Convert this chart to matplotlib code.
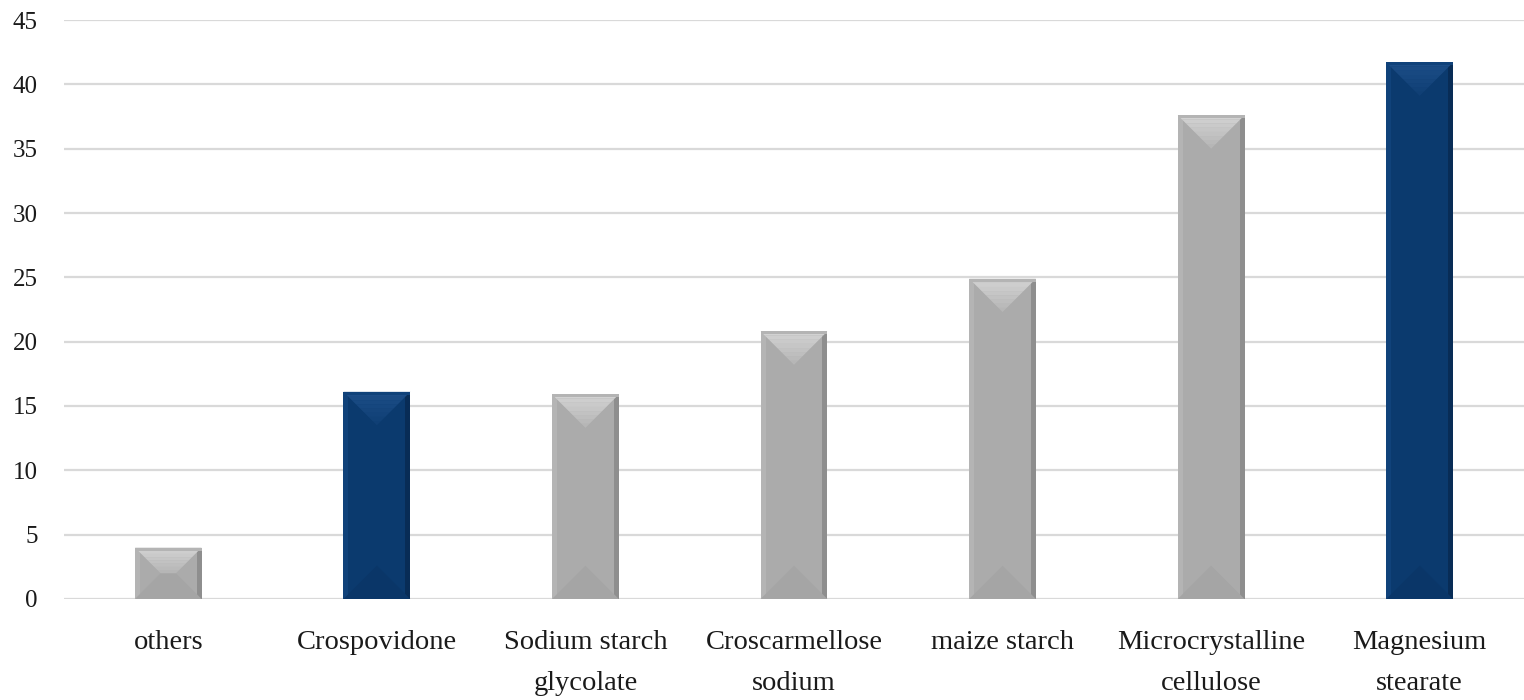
import numpy as np
import matplotlib.pyplot as plt
from matplotlib.patches import Polygon

# Excipient usage counts
categories = ['others', 'Crospovidone', 'Sodium starch\nglycolate',
              'Croscarmellose\nsodium', 'maize starch',
              'Microcrystalline\ncellulose', 'Magnesium\nstearate']
values = [4, 16.1, 15.9, 20.8, 24.9, 37.6, 41.7]
highlight = [False, True, False, False, False, False, True]
yticks = [0, 5, 10, 15, 20, 25, 30, 35, 40, 45]

# colour sets: body, top bevel, bottom bevel, right edge, left edge
gray = dict(body='#ababab', top='#d2d2d2', bottom='#a5a5a5',
            right='#8e8e8e', left='#b4b4b4')
navy = dict(body='#0b3a6e', top='#1c4d87', bottom='#0a3668',
            right='#082c56', left='#10427a')

fig = plt.figure(figsize=(15.24, 7), dpi=100)
ax = fig.add_axes([0.042, 0.1443, 0.958, 0.8271])

x = np.arange(len(categories))
bar_w = 0.32
bars = ax.bar(x, values, width=bar_w, zorder=2,
              color=[navy['body'] if h else gray['body'] for h in highlight],
              linewidth=0)

ax.set_xlim(-0.5, len(categories) - 0.5)
ax.set_ylim(0, 45)
ax.set_yticks(yticks)
ax.yaxis.grid(True, color='#d9d9d9', linewidth=1.6, zorder=0)
ax.set_axisbelow(True)
for s in ax.spines.values():
    s.set_visible(False)
ax.tick_params(axis='both', length=0)
ax.tick_params(axis='y', pad=19)
ax.tick_params(axis='x', pad=22)

ax.set_xticks(x)
ax.set_xticklabels(categories, fontsize=20.5, family='Liberation Serif',
                   va='top', color='#1a1a1a')
for lab in ax.get_xticklabels():
    lab.set_linespacing(1.85)
for lab in ax.get_yticklabels():
    lab.set_fontsize(18)
    lab.set_family('Liberation Serif')
    lab.set_color('#1a1a1a')

# bevel faces worked out in pixel space, then mapped back to data space
to_px = ax.transData
to_data = ax.transData.inverted()
for rect, h in zip(bars, highlight):
    pal = navy if h else gray
    x0, y0 = rect.get_x(), rect.get_y()
    x1, y1 = x0 + rect.get_width(), y0 + rect.get_height()
    (px0, py0), (px1, py1) = to_px.transform([(x0, y0), (x1, y1)])
    d = min((px1 - px0) / 2, (py1 - py0) / 2)
    edge = 5

    def face(pts, color, alpha=1.0):
        ax.add_patch(Polygon(to_data.transform(pts), closed=True,
                             facecolor=color, edgecolor='none',
                             alpha=alpha, zorder=3))

    face([(px0, py0), (px0 + edge, py0), (px0 + edge, py1), (px0, py1)], pal['left'])
    face([(px1 - edge, py0), (px1, py0), (px1, py1), (px1 - edge, py1)], pal['right'])
    face([(px0, py0), (px1, py0), (px1 - d, py0 + d), (px0 + d, py0 + d)], pal['bottom'])
    # top chevron, lighter towards the upper edge
    steps = 8
    for i in range(steps):
        f = i / steps
        g = (i + 1) / steps
        a = [(px0 + d * f, py1 - d * f), (px1 - d * f, py1 - d * f),
             (px1 - d * g, py1 - d * g), (px0 + d * g, py1 - d * g)]
        face(a, pal['top'], alpha=1.0 - 0.1 * i)
    face([(px0, py1 - 3), (px1, py1 - 3), (px1, py1), (px0, py1)], pal['left'])

fig.savefig('out.png', dpi=100)
